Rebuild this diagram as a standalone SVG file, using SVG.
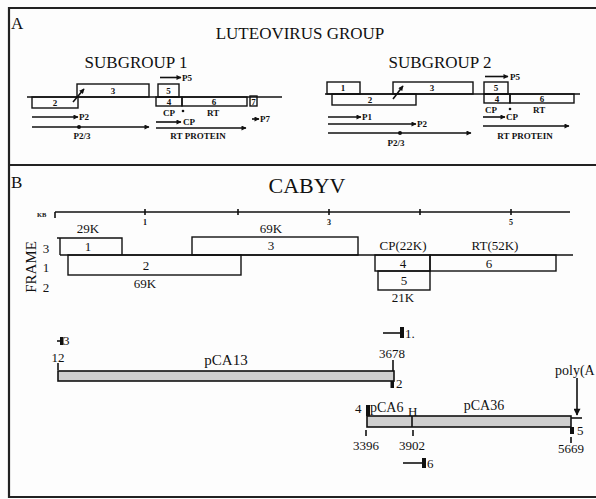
<svg xmlns="http://www.w3.org/2000/svg" width="596" height="499" viewBox="0 0 596 499">
<defs>
<marker id="ah" viewBox="0 0 10 10" refX="9" refY="5" markerWidth="6" markerHeight="5" orient="auto" markerUnits="userSpaceOnUse"><path d="M0,0 L10,5 L0,10 z" fill="#111"/></marker>
<marker id="ah2" viewBox="0 0 10 10" refX="9" refY="5" markerWidth="8" markerHeight="7" orient="auto" markerUnits="userSpaceOnUse"><path d="M0,0 L10,5 L0,10 z" fill="#111"/></marker>
</defs>
<style>
text{font-family:"Liberation Serif","Times New Roman",serif;fill:#111}
.big{font-size:17px}
.sm{font-size:9px;font-weight:bold}
.md{font-size:13px}
.box{fill:none;stroke:#111;stroke-width:1.4}
.ln{stroke:#111;stroke-width:1.6;fill:none}
.arr{stroke:#111;stroke-width:1.6;fill:none;marker-end:url(#ah)}
.bar{fill:#cfcfcf;stroke:#111;stroke-width:1.6}
.blk{fill:#111}
.c{text-anchor:middle}
</style>
<rect width="596" height="499" fill="#fdfdfd"/>
<g id="frame" stroke="#222" stroke-width="2.2" fill="none">
<line x1="9" y1="8" x2="596" y2="8"/>
<line x1="9" y1="7" x2="9" y2="498"/>
<line x1="9" y1="165" x2="596" y2="165"/>
<line x1="9" y1="497" x2="596" y2="497"/>
</g>

<g id="panelA">
<text x="11" y="29" class="big" font-size="18">A</text>
<text x="300" y="39" class="big c">LUTEOVIRUS GROUP</text>
<text x="136" y="68" class="big c" font-size="16.5">SUBGROUP 1</text>
<text x="440" y="68" class="big c" font-size="16.5">SUBGROUP 2</text>
</g>

<g id="subgroup1">
<line class="ln" x1="27" y1="97" x2="282" y2="97"/>
<rect class="box" x="32" y="97" width="46" height="11"/>
<text x="55" y="106" class="sm c" font-weight="normal">2</text>
<rect class="box" x="77" y="84" width="72" height="13"/>
<text x="113" y="94" class="sm c" font-weight="normal">3</text>
<line class="ln" x1="73" y1="102" x2="84" y2="89" marker-end="url(#ah)"/>
<rect class="box" x="158" y="84" width="21" height="13"/>
<text x="168.5" y="94" class="sm c" font-weight="normal">5</text>
<rect class="box" x="156" y="97" width="26" height="9"/>
<text x="169" y="105" class="sm c" font-weight="normal">4</text>
<rect class="box" x="182" y="97" width="65" height="9"/>
<text x="214" y="105" class="sm c" font-weight="normal">6</text>
<rect class="box" x="250" y="96" width="7" height="10"/>
<text x="253.5" y="105" class="sm c" font-weight="normal">7</text>
<line class="arr" x1="160" y1="77.5" x2="181" y2="77.5"/>
<text x="182" y="81" class="sm">P5</text>
<text x="163" y="116" class="sm">CP</text>
<circle cx="183" cy="111" r="1.3" class="blk"/>
<text x="207" y="116" class="sm">RT</text>
<line class="arr" x1="32" y1="117" x2="78" y2="117"/>
<text x="79" y="120" class="sm">P2</text>
<line class="arr" x1="32" y1="127" x2="149" y2="127"/>
<circle cx="79" cy="127" r="2" class="blk"/>
<text x="82" y="139" class="sm c">P2/3</text>
<line class="arr" x1="156" y1="122" x2="181" y2="122"/>
<text x="183" y="125" class="sm" font-size="10">CP</text>
<line class="arr" x1="156" y1="128" x2="246" y2="128"/>
<text x="198" y="139" class="sm c">RT PROTEIN</text>
<line class="arr" x1="252" y1="119" x2="259" y2="119"/>
<text x="260" y="122" class="sm">P7</text>
</g>

<g id="subgroup2">
<line class="ln" x1="325" y1="94" x2="580" y2="94"/>
<rect class="box" x="327" y="82" width="33" height="12"/>
<text x="343" y="91" class="sm c" font-weight="normal">1</text>
<rect class="box" x="332" y="94" width="84" height="11"/>
<text x="370" y="103" class="sm c" font-weight="normal">2</text>
<rect class="box" x="393" y="82" width="80" height="12"/>
<text x="432" y="91" class="sm c" font-weight="normal">3</text>
<line class="ln" x1="393" y1="99" x2="403" y2="86" marker-end="url(#ah)"/>
<rect class="box" x="484" y="82" width="24" height="12"/>
<text x="496" y="91" class="sm c" font-weight="normal">5</text>
<rect class="box" x="484" y="94" width="26" height="9"/>
<text x="497" y="102" class="sm c" font-weight="normal">4</text>
<rect class="box" x="510" y="94" width="64" height="9"/>
<text x="542" y="102" class="sm c" font-weight="normal">6</text>
<line class="arr" x1="485" y1="76.5" x2="508" y2="76.5"/>
<text x="510" y="80" class="sm">P5</text>
<text x="485" y="113" class="sm">CP</text>
<circle cx="510" cy="109" r="1.3" class="blk"/>
<text x="533" y="113" class="sm">RT</text>
<line class="arr" x1="328" y1="117" x2="361" y2="117"/>
<text x="362" y="120" class="sm">P1</text>
<line class="arr" x1="328" y1="124" x2="416" y2="124"/>
<text x="417" y="127" class="sm">P2</text>
<line class="arr" x1="328" y1="133" x2="471" y2="133"/>
<circle cx="400" cy="133" r="2" class="blk"/>
<text x="396" y="146" class="sm c">P2/3</text>
<line class="arr" x1="483" y1="117" x2="505" y2="117"/>
<text x="506" y="120" class="sm" font-size="10">CP</text>
<line class="arr" x1="483" y1="126" x2="569" y2="126"/>
<text x="525" y="139" class="sm c">RT PROTEIN</text>
</g>

<g id="panelB">
<text x="11" y="188" class="big" font-size="18">B</text>
<text x="307" y="193" class="c" font-size="22">CABYV</text>
</g>

<g id="scale">
<text x="37" y="217" font-size="6.5" font-weight="bold">KB</text>
<line class="ln" x1="55" y1="212" x2="570" y2="212"/>
<line class="ln" x1="55" y1="212" x2="55" y2="218"/>
<line class="ln" x1="145" y1="209" x2="145" y2="215"/>
<line class="ln" x1="238" y1="209" x2="238" y2="215"/>
<line class="ln" x1="329" y1="209" x2="329" y2="215"/>
<line class="ln" x1="420" y1="209" x2="420" y2="215"/>
<line class="ln" x1="511" y1="209" x2="511" y2="215"/>
<text x="145" y="225" font-size="8" font-weight="bold" class="c">1</text>
<text x="329" y="225" font-size="8" font-weight="bold" class="c">3</text>
<text x="511" y="225" font-size="8" font-weight="bold" class="c">5</text>
</g>

<g id="orfs">
<text x="31" y="267" class="c" font-size="15" transform="rotate(-90 31 267)" dy="5">FRAME</text>
<text x="46" y="253" class="md c">3</text>
<text x="46" y="272" class="md c">1</text>
<text x="46" y="292" class="md c">2</text>
<line class="ln" x1="60" y1="255" x2="573" y2="255"/>
<path class="box" d="M57,238 H122 V255 M60,238 V255"/>
<text x="88" y="251" class="md c">1</text>
<text x="88" y="233" class="md c">29K</text>
<rect class="box" x="192" y="237" width="166" height="18"/>
<text x="271" y="250" class="md c">3</text>
<text x="271" y="233" class="md c">69K</text>
<rect class="box" x="68" y="255" width="173" height="20"/>
<text x="146" y="270" class="md c">2</text>
<text x="145" y="288" class="md c">69K</text>
<rect class="box" x="375" y="255" width="55" height="16"/>
<text x="403" y="268" class="md c">4</text>
<text x="403" y="250" class="md c">CP(22K)</text>
<rect class="box" x="430" y="255" width="126" height="16"/>
<text x="489" y="268" class="md c">6</text>
<text x="495" y="250" class="md c">RT(52K)</text>
<rect class="box" x="378" y="271" width="52" height="19"/>
<text x="404" y="285" class="md c">5</text>
<text x="403" y="302" class="md c">21K</text>
</g>

<g id="pCA13">
<line class="ln" x1="57" y1="341" x2="60" y2="341"/>
<rect class="blk" x="60" y="337" width="3.5" height="8"/>
<text x="63" y="345" class="md">3</text>
<text x="58" y="362" class="md c">12</text>
<line class="ln" x1="58" y1="363" x2="58" y2="370" stroke-width="1"/>
<rect class="bar" x="58" y="371" width="336" height="10"/>
<text x="226" y="365" font-size="15" class="c">pCA13</text>
<line class="ln" x1="393" y1="360" x2="393" y2="371"/>
<rect class="blk" x="390.5" y="381" width="3.5" height="7"/>
<text x="396" y="388" class="md">2</text>
<text x="392" y="358" class="md c">3678</text>
<line class="ln" x1="383" y1="333" x2="400" y2="333"/>
<rect class="blk" x="400" y="327" width="4" height="11"/>
<text x="405" y="338" class="md">1.</text>
</g>

<g id="pCA6-pCA36">
<rect class="bar" x="367" y="416" width="204" height="11"/>
<line class="ln" x1="412" y1="416" x2="412" y2="427" stroke-width="1.2"/>
<line class="ln" x1="571" y1="418" x2="582" y2="418" stroke-width="1.2"/>
<rect class="blk" x="366" y="405" width="4" height="11"/>
<text x="355" y="413" class="md">4</text>
<text x="370" y="412" font-size="14">pCA6</text>
<text x="408" y="416" class="md">H</text>
<text x="484" y="410" font-size="14" class="c">pCA36</text>
<text x="555" y="375" font-size="14">poly(A</text>
<line class="ln" x1="577" y1="378" x2="577" y2="415" stroke-width="1.2" marker-end="url(#ah2)"/>
<rect class="blk" x="570" y="427" width="4" height="7"/>
<text x="577" y="435" class="md">5</text>
<line class="ln" x1="366" y1="430" x2="366" y2="436" stroke-width="1"/>
<line class="ln" x1="413" y1="430" x2="413" y2="436" stroke-width="1"/>
<line class="ln" x1="571" y1="437" x2="571" y2="443" stroke-width="1"/>
<text x="366" y="450" class="md c">3396</text>
<text x="412" y="450" class="md c">3902</text>
<text x="571" y="453" class="md c">5669</text>
<line class="ln" x1="403" y1="463" x2="422" y2="463"/>
<rect class="blk" x="422" y="458" width="4" height="10"/>
<text x="427" y="468" class="md">6</text>
</g>
</svg>
